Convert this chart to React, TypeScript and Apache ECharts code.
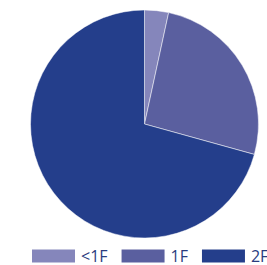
import React, { useEffect, useRef } from "react";
import * as echarts from "echarts";

const categories = ["<1F", "1F", "2F"];
const values = [3.4, 25.9, 70.7];
const colors = ["#8586bb", "#5a5f9f", "#243e8b"];

export default function App() {
  const ref = useRef<HTMLDivElement>(null);
  useEffect(() => {
    if (!ref.current) return;
    const chart = echarts.init(ref.current, undefined, { renderer: "svg" });
    chart.setOption({
      animation: false,
      color: colors,
      legend: {
        data: categories,
        left: 30,
        top: 247.5,
        padding: 0,
        width: 400,
        itemWidth: 45,
        itemHeight: 15,
        itemGap: 12,
        icon: "rect",
        textStyle: { fontFamily: "Open Sans", fontSize: 16, color: "#293b7e", padding: [0, 0, 0, 0] },
      },
      series: [
        {
          type: "pie",
          center: [144.5, 124],
          radius: [0, 114],
          startAngle: 90,
          clockwise: true,
          label: { show: false },
          labelLine: { show: false },
          itemStyle: { borderColor: "#ffffff", borderWidth: 0.5 },
          data: categories.map((c, i) => ({ name: c, value: values[i] })),
        },
      ],
    });
    return () => chart.dispose();
  }, []);
  return (
    <div style={{ position: "absolute", left: 0, top: 0, width: 267, height: 265, overflow: "hidden" }}>
      <div ref={ref} style={{ width: 320, height: 265 }} />
    </div>
  );
}
